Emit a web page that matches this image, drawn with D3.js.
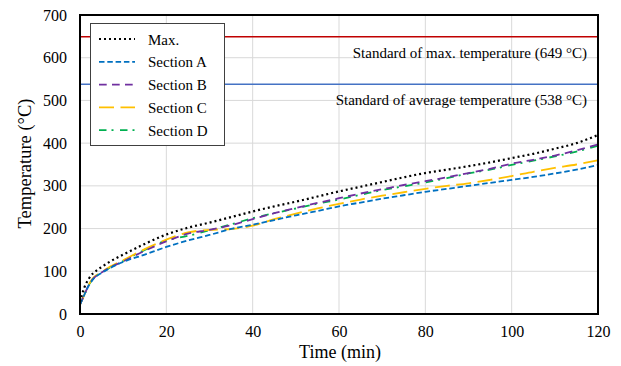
<!DOCTYPE html>
<html>
<head>
<meta charset="utf-8">
<script src="https://cdn.jsdelivr.net/npm/d3@7"></script>
<style>
  html, body { margin: 0; padding: 0; background: #fff; }
  svg { display: block; font-family: "Liberation Serif", "Times New Roman", serif; }
</style>
</head>
<body>
<svg id="chart" width="621" height="366"></svg>
<script>
// Time axis samples (min)
const time = [0, 1, 2, 3, 4, 5, 7, 10, 15, 20, 25, 30, 35, 40, 45, 50, 55, 60, 65, 70, 75, 80, 85, 90, 95, 100, 105, 110, 115, 120];

// Temperatures (°C) per series
const maxTemp  = [28, 62, 82, 95, 103, 110, 123, 139, 164, 186, 202, 214, 227, 240, 252, 263, 275, 287, 298, 309, 320, 330, 338, 346, 355, 365, 375, 387, 400, 419];
const sectionA = [22, 45, 66, 81, 90, 96, 108, 122, 139, 157, 172, 185, 199, 209, 220, 231, 241, 252, 261, 270, 278, 286, 293, 300, 307, 314, 321, 329, 338, 349];
const sectionB = [22, 45, 67, 82, 91, 97, 109, 123, 148, 170, 188, 197, 208, 222, 236, 248, 260, 271, 282, 292, 302, 311, 320, 330, 340, 352, 361, 371, 383, 397];
const sectionC = [22, 45, 68, 84, 92, 98, 111, 126, 152, 174, 191, 197, 199, 207, 222, 235, 247, 258, 268, 277, 285, 293, 300, 306, 314, 323, 333, 342, 350, 360];
const sectionD = [22, 45, 67, 82, 91, 97, 109, 124, 150, 172, 183, 196, 210, 224, 236, 247, 258, 268, 279, 290, 299, 308, 318, 329, 338, 349, 359, 369, 380, 394];

const seriesNames = ["Max.", "Section A", "Section B", "Section C", "Section D"];
const seriesValues = [maxTemp, sectionA, sectionB, sectionC, sectionD];

// Reference limits
const limitValues = [649, 538];
const limitLabels = ["Standard of max. temperature (649 °C)", "Standard of average temperature (538 °C)"];

const xTicks = [0, 20, 40, 60, 80, 100, 120];
const yTicks = [0, 100, 200, 300, 400, 500, 600, 700];

const seriesStyle = [
  { color: "#000000", dash: "2,3", width: 2.2 },
  { color: "#0070C0", dash: "5.5,2.8", width: 1.8 },
  { color: "#7030A0", dash: "7.7,5.3", width: 1.8 },
  { color: "#FFC000", dash: "15,6.5", width: 1.8 },
  { color: "#00B050", dash: "7.5,5,2,6.5", width: 1.8 }
];
const limitColors = ["#C00000", "#4472C4"];

const svg = d3.select("#chart");
const m = { left: 80, right: 598, top: 15, bottom: 314 };
const serif = "Liberation Serif, Times New Roman, serif";

const x = d3.scaleLinear().domain([0, 120]).range([m.left, m.right]);
const y = d3.scaleLinear().domain([0, 700]).range([m.bottom, m.top]);

// Gridlines
const grid = svg.append("g");
grid.selectAll("line.v").data(xTicks).join("line")
  .attr("x1", d => x(d)).attr("x2", d => x(d))
  .attr("y1", m.top).attr("y2", m.bottom)
  .attr("stroke", "#d9d9d9").attr("stroke-width", 1);
grid.selectAll("line.h").data(yTicks).join("line")
  .attr("x1", m.left).attr("x2", m.right)
  .attr("y1", d => y(d)).attr("y2", d => y(d))
  .attr("stroke", "#d9d9d9").attr("stroke-width", 1);

// Axes (labels only; frame drawn separately)
const xAxis = svg.append("g")
  .attr("transform", `translate(0,${m.bottom})`)
  .call(d3.axisBottom(x).tickValues(xTicks).tickSize(0).tickPadding(12));
const yAxis = svg.append("g")
  .attr("transform", `translate(${m.left},0)`)
  .call(d3.axisLeft(y).tickValues(yTicks).tickSize(0).tickPadding(13));
[xAxis, yAxis].forEach(a => {
  a.attr("font-family", serif);
  a.select(".domain").remove();
  a.selectAll("text").attr("font-size", 16).attr("fill", "#000");
});

// Reference lines and labels
limitValues.forEach((v, i) => {
  svg.append("line")
    .attr("x1", m.left).attr("x2", m.right)
    .attr("y1", y(v)).attr("y2", y(v))
    .attr("stroke", limitColors[i]).attr("stroke-width", 1.6);
  svg.append("text")
    .attr("x", 587).attr("y", y(v) + 21)
    .attr("text-anchor", "end").attr("font-size", 15).attr("fill", "#000")
    .text(limitLabels[i]);
});

// Data lines
svg.append("clipPath").attr("id", "plotclip")
  .append("rect").attr("x", m.left).attr("y", m.top)
  .attr("width", m.right - m.left).attr("height", m.bottom - m.top);

const line = d3.line()
  .x((d, i) => x(time[i]))
  .y(d => y(d))
  .curve(d3.curveMonotoneX);

const plot = svg.append("g").attr("clip-path", "url(#plotclip)");
// draw from back to front: D, C, B, A, Max
[4, 3, 2, 1, 0].forEach(i => {
  plot.append("path")
    .datum(seriesValues[i])
    .attr("d", line)
    .attr("fill", "none")
    .attr("stroke", seriesStyle[i].color)
    .attr("stroke-width", seriesStyle[i].width)
    .attr("stroke-dasharray", seriesStyle[i].dash);
});

// Plot frame
svg.append("rect")
  .attr("x", m.left).attr("y", m.top)
  .attr("width", m.right - m.left).attr("height", m.bottom - m.top)
  .attr("fill", "none").attr("stroke", "#000").attr("stroke-width", 2);

// Axis titles
svg.append("text")
  .attr("x", 340).attr("y", 358)
  .attr("text-anchor", "middle").attr("font-size", 18).attr("fill", "#000")
  .text("Time (min)");
svg.append("text")
  .attr("transform", `translate(31,${163.5}) rotate(-90)`)
  .attr("text-anchor", "middle").attr("font-size", 18.5).attr("fill", "#000")
  .text("Temperature (°C)");

// Legend
const lg = svg.append("g");
lg.append("rect")
  .attr("x", 90.5).attr("y", 23.5).attr("width", 134).attr("height", 122)
  .attr("fill", "#fff").attr("stroke", "#404040").attr("stroke-width", 1);
seriesNames.forEach((name, i) => {
  const yy = 39 + i * 22.8;
  lg.append("line")
    .attr("x1", 99).attr("x2", 135).attr("y1", yy).attr("y2", yy)
    .attr("stroke", seriesStyle[i].color)
    .attr("stroke-width", seriesStyle[i].width)
    .attr("stroke-dasharray", seriesStyle[i].dash);
  lg.append("text")
    .attr("x", 148).attr("y", yy + 5.5)
    .attr("font-size", 15).attr("fill", "#000")
    .text(name);
});
</script>
</body>
</html>
